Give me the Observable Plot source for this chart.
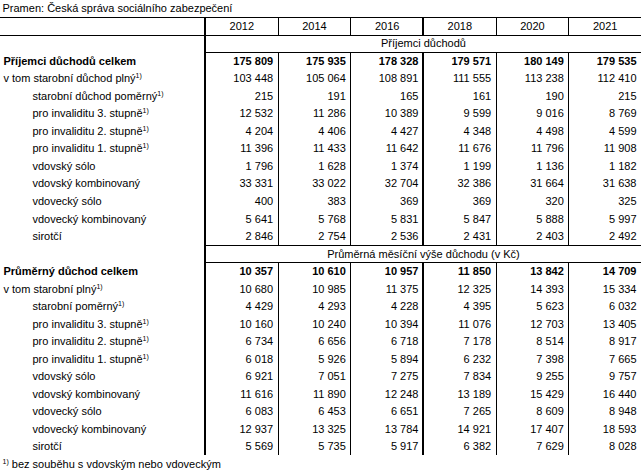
<!DOCTYPE html>
<html>
<head>
<meta charset="utf-8">
<script src="https://cdn.jsdelivr.net/npm/d3@7"></script>
<script src="https://cdn.jsdelivr.net/npm/@observablehq/plot@0.6"></script>
<style>
  body { margin: 0; background: #fff; }
</style>
</head>
<body>
<div id="chart"></div>
<script>
// ---------------- data ----------------
const source = "Pramen: Česká správa sociálního zabezpečení";
const footnote = "¹⁾ bez souběhu s vdovským nebo vdoveckým";
const years = [2012, 2014, 2016, 2018, 2020, 2021];

const section1Title = "Příjemci důchodů";
const section1Labels = [
  "Příjemci důchodů celkem",
  "v tom starobní důchod plný¹⁾",
  "starobní důchod poměrný¹⁾",
  "pro invaliditu 3. stupně¹⁾",
  "pro invaliditu 2. stupně¹⁾",
  "pro invaliditu 1. stupně¹⁾",
  "vdovský sólo",
  "vdovský kombinovaný",
  "vdovecký sólo",
  "vdovecký kombinovaný",
  "sirotčí"
];
const section1Values = [
  [175809, 175935, 178328, 179571, 180149, 179535],
  [103448, 105064, 108891, 111555, 113238, 112410],
  [215, 191, 165, 161, 190, 215],
  [12532, 11286, 10389, 9599, 9016, 8769],
  [4204, 4406, 4427, 4348, 4498, 4599],
  [11396, 11433, 11642, 11676, 11796, 11908],
  [1796, 1628, 1374, 1199, 1136, 1182],
  [33331, 33022, 32704, 32386, 31664, 31638],
  [400, 383, 369, 369, 320, 325],
  [5641, 5768, 5831, 5847, 5888, 5997],
  [2846, 2754, 2536, 2431, 2403, 2492]
];

const section2Title = "Průměrná měsíční výše důchodu (v Kč)";
const section2Labels = [
  "Průměrný důchod celkem",
  "v tom starobní plný¹⁾",
  "starobní poměrný¹⁾",
  "pro invaliditu 3. stupně¹⁾",
  "pro invaliditu 2. stupně¹⁾",
  "pro invaliditu 1. stupně¹⁾",
  "vdovský sólo",
  "vdovský kombinovaný",
  "vdovecký sólo",
  "vdovecký kombinovaný",
  "sirotčí"
];
const section2Values = [
  [10357, 10610, 10957, 11850, 13842, 14709],
  [10680, 10985, 11375, 12325, 14393, 15334],
  [4429, 4293, 4228, 4395, 5623, 6032],
  [10160, 10240, 10394, 11076, 12703, 13405],
  [6734, 6656, 6718, 7178, 8514, 8917],
  [6018, 5926, 5894, 6232, 7398, 7665],
  [6921, 7051, 7275, 7834, 9255, 9757],
  [11616, 11890, 12248, 13189, 15429, 16440],
  [6083, 6453, 6651, 7265, 8609, 8948],
  [12937, 13325, 13784, 14921, 17407, 18593],
  [5569, 5735, 5917, 6382, 7629, 8028]
];

// row kinds (same structure in both sections)
const rowLevels = ["total", "first", "sub", "sub", "sub", "sub", "sub", "sub", "sub", "sub", "sub"];

// ---------------- table structure ----------------
const sections = [
  {title: section1Title, labels: section1Labels, values: section1Values},
  {title: section2Title, labels: section2Labels, values: section2Values}
];
let r = 0;
const headerRow = r++;
const rows = [];
for (const s of sections) {
  s.titleRow = r++;
  s.start = r;
  s.labels.forEach((label, i) => {
    rows.push({row: r++, label, level: rowLevels[i], values: s.values[i]});
  });
  s.end = r;
}
const nRows = r;
const nCols = years.length;

const cells = rows.flatMap(d => d.values.map((v, j) => ({row: d.row, col: j, value: v, bold: d.level === "total"})));

const fmt = d3.formatLocale({decimal: ",", thousands: " ", grouping: [3], currency: ["", " Kč"]}).format(",d");

const labelColumnWidth = 2.82; // width of the label column in data-column units
const LW = labelColumnWidth;

// horizontal rules
const hLines = [
  {y: headerRow, x1: -LW, x2: nCols},
  {y: headerRow + 1, x1: -LW, x2: nCols},
  ...sections.flatMap((s, i) => i === 0
    ? [{y: s.start, x1: 0, x2: nCols}]
    : [{y: s.titleRow, x1: 0, x2: nCols}, {y: s.start, x1: 0, x2: nCols}])
];

// vertical rules between year columns
const thickBoundary = 3;
const vSegments = [{y1: headerRow, y2: headerRow + 1}, ...sections.map(s => ({y1: s.start, y2: s.end}))];
const vLines = d3.range(1, nCols).flatMap(x => vSegments.map(seg => ({x, ...seg, thick: x === thickBoundary})));

const font = "'Liberation Sans', Arial, Helvetica, sans-serif";

const chart = Plot.plot({
  width: 643,
  height: 470,
  marginLeft: 0,
  marginRight: 2,
  marginTop: 17,
  marginBottom: 15,
  style: {fontFamily: font, fontSize: "11px", color: "#000", background: "#fff", overflow: "visible"},
  x: {domain: [-LW, nCols], axis: null},
  y: {domain: [nRows, 0], axis: null},
  marks: [
    // rules
    Plot.ruleY(hLines, {y: "y", x1: "x1", x2: "x2", stroke: "#000", strokeWidth: 1, shapeRendering: "crispEdges"}),
    Plot.ruleX([{x: 0, y1: 0, y2: nRows}], {x: "x", y1: "y1", y2: "y2", stroke: "#000", strokeWidth: 2, shapeRendering: "crispEdges"}),
    Plot.ruleX(vLines.filter(d => !d.thick), {x: "x", y1: "y1", y2: "y2", stroke: "#000", strokeWidth: 1, shapeRendering: "crispEdges"}),
    Plot.ruleX(vLines.filter(d => d.thick), {x: "x", y1: "y1", y2: "y2", stroke: "#000", strokeWidth: 2, shapeRendering: "crispEdges"}),

    // source line and footnote
    Plot.text([source], {x: () => -LW, y: () => -0.5, dx: 2, textAnchor: "start", lineAnchor: "middle", fill: "#000"}),
    Plot.text([footnote], {x: () => -LW, y: () => nRows + 0.5, dx: 2, textAnchor: "start", lineAnchor: "middle", fill: "#000"}),

    // year header
    Plot.text(years, {x: (d, i) => i + 0.5, y: () => headerRow + 0.5, text: d => String(d), lineAnchor: "middle", fill: "#000"}),

    // section titles
    Plot.text(sections, {x: () => nCols / 2, y: s => s.titleRow + 0.5, text: "title", lineAnchor: "middle", fill: "#000"}),

    // row labels
    Plot.text(rows.filter(d => d.level === "total"), {x: () => -LW, y: d => d.row + 0.5, text: "label", dx: 3, textAnchor: "start", lineAnchor: "middle", fontWeight: "bold", fill: "#000"}),
    Plot.text(rows.filter(d => d.level === "first"), {x: () => -LW, y: d => d.row + 0.5, text: "label", dx: 3, textAnchor: "start", lineAnchor: "middle", fill: "#000"}),
    Plot.text(rows.filter(d => d.level === "sub"), {x: () => -LW, y: d => d.row + 0.5, text: "label", dx: 32, textAnchor: "start", lineAnchor: "middle", fill: "#000"}),

    // values
    Plot.text(cells.filter(d => d.bold), {x: d => d.col + 1, y: d => d.row + 0.5, text: d => fmt(d.value), dx: -5, textAnchor: "end", lineAnchor: "middle", fontWeight: "bold", fill: "#000"}),
    Plot.text(cells.filter(d => !d.bold), {x: d => d.col + 1, y: d => d.row + 0.5, text: d => fmt(d.value), dx: -5, textAnchor: "end", lineAnchor: "middle", fill: "#000"})
  ]
});

document.getElementById("chart").appendChild(chart);

// render the footnote markers "¹⁾" as real superscript "1)"
const marker = "¹⁾";
d3.select(chart).selectAll("text").each(function () {
  const el = this;
  const nodes = Array.from(el.childNodes).filter(n => n.nodeType === 3 && n.nodeValue.includes(marker));
  for (const n of nodes) {
    const parts = n.nodeValue.split(marker);
    const frag = document.createDocumentFragment();
    parts.forEach((p, i) => {
      if (i > 0) {
        const sup = document.createElementNS("http://www.w3.org/2000/svg", "tspan");
        sup.setAttribute("dy", "-4");
        sup.setAttribute("font-size", "7");
        sup.textContent = "1)";
        frag.appendChild(sup);
        if (p.length) {
          const rest = document.createElementNS("http://www.w3.org/2000/svg", "tspan");
          rest.setAttribute("dy", "4");
          rest.textContent = p;
          frag.appendChild(rest);
        }
      } else if (p.length) {
        frag.appendChild(document.createTextNode(p));
      }
    });
    el.replaceChild(frag, n);
  }
});
</script>
</body>
</html>
